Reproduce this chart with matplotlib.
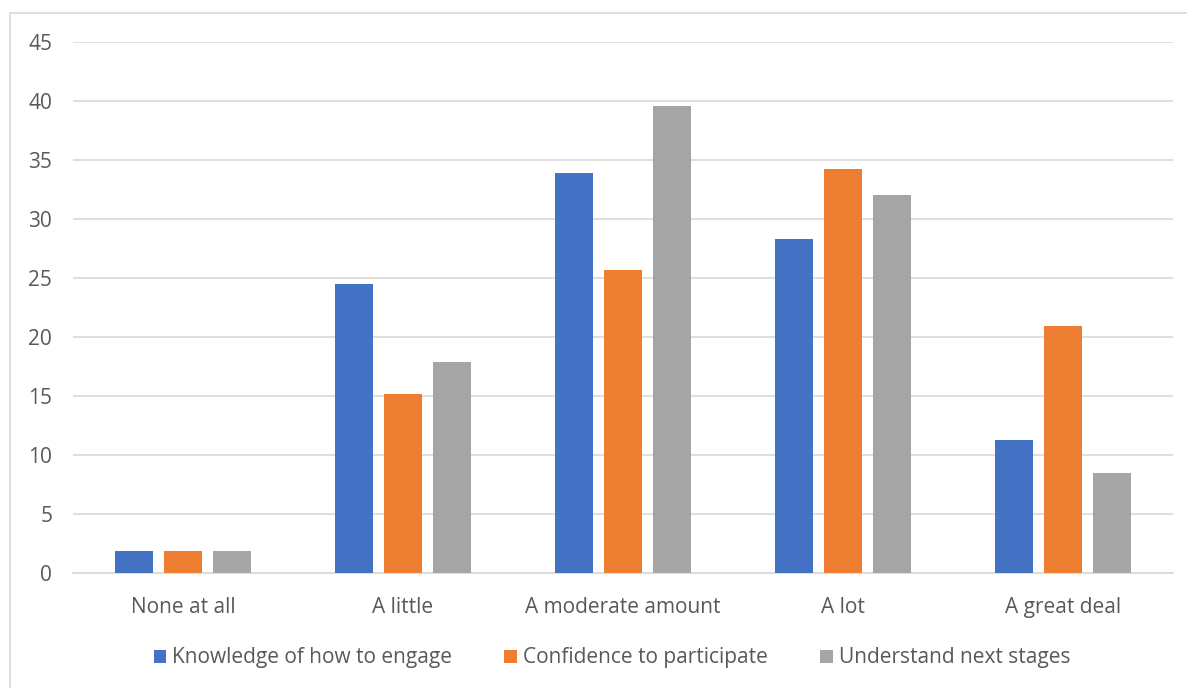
import matplotlib.pyplot as plt
from matplotlib.patches import Rectangle
import numpy as np

plt.rcParams['font.family'] = ['Open Sans', 'DejaVu Sans']

categories = ['None at all', 'A little', 'A moderate amount', 'A lot', 'A great deal']
knowledge = [1.9, 24.5, 33.9, 28.3, 11.3]
confidence = [1.9, 15.2, 25.7, 34.2, 20.9]
understand = [1.9, 17.9, 39.6, 32.0, 8.5]

series = ['Knowledge of how to engage', 'Confidence to participate', 'Understand next stages']
colors = ['#4472C4', '#ED7D31', '#A5A5A5']
text_color = '#595959'

fig = plt.figure(figsize=(11.87, 6.88), dpi=100)
# outer chart border
fig.patches.append(Rectangle((10 / 1187, -0.01), 1.1, 1.01 - 13 / 688,
                             transform=fig.transFigure, fill=False,
                             edgecolor='#D9D9D9', linewidth=1.2))

ax = fig.add_axes([73 / 1187, 115 / 688, 1100 / 1187, 531 / 688])

x = np.arange(len(categories))
w = 0.173
step = 0.221
for i, (vals, name, c) in enumerate(zip([knowledge, confidence, understand], series, colors)):
    ax.bar(x + (i - 1) * step, vals, width=w, color=c, label=name, zorder=3)

ax.set_xlim(-0.5, len(categories) - 0.5)
ax.set_ylim(0, 45)
ax.set_yticks(range(0, 46, 5))
ax.set_xticks(x)
ax.set_xticklabels(categories)
ax.grid(axis='y', color='#D9D9D9', linewidth=1.2, zorder=0)
for s in ['top', 'right', 'left']:
    ax.spines[s].set_visible(False)
ax.spines['bottom'].set_color('#D9D9D9')
ax.spines['bottom'].set_linewidth(1.2)
ax.tick_params(length=0, labelsize=15, labelcolor=text_color)
ax.tick_params(axis='x', pad=17)
ax.tick_params(axis='y', pad=15)

leg = fig.legend(loc='center', bbox_to_anchor=(0.5155, 30 / 688), ncol=3, frameon=False,
                 fontsize=15, handlelength=0.6, handleheight=0.6, handletextpad=0.3,
                 columnspacing=2.5)
for t in leg.get_texts():
    t.set_color(text_color)

plt.savefig('out.png', dpi=100)
